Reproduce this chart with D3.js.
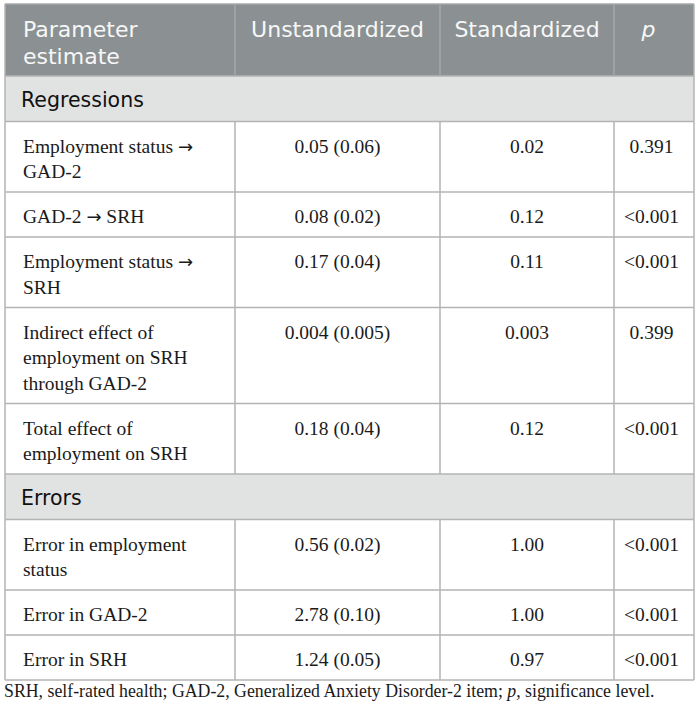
<!DOCTYPE html>
<html>
<head>
<meta charset="utf-8">
<script src="https://cdn.jsdelivr.net/npm/d3@7"></script>
<style>
  body { margin: 0; background: #fff; }
  svg { display: block; }
</style>
</head>
<body>
<div id="chart"></div>
<script>
// table content
const headers = ["Parameter\nestimate", "Unstandardized", "Standardized", "p"];
const groups = ["Regressions", "Errors"];
const rowGroup = [0, 0, 0, 0, 0, 1, 1, 1];
const rowLabels = [
    "Employment status \u2192\nGAD-2",
    "GAD-2 \u2192 SRH",
    "Employment status \u2192\nSRH",
    "Indirect effect of\nemployment on SRH\nthrough GAD-2",
    "Total effect of\nemployment on SRH",
    "Error in employment\nstatus",
    "Error in GAD-2",
    "Error in SRH"
];
const unstd = ["0.05 (0.06)", "0.08 (0.02)", "0.17 (0.04)", "0.004 (0.005)", "0.18 (0.04)", "0.56 (0.02)", "2.78 (0.10)", "1.24 (0.05)"];
const stdz = ["0.02", "0.12", "0.11", "0.003", "0.12", "1.00", "1.00", "0.97"];
const pvals = ["0.391", "<0.001", "<0.001", "0.399", "<0.001", "<0.001", "<0.001", "<0.001"];
const caption = [["SRH, self-rated health; GAD-2, Generalized Anxiety Disorder-2 item; ", false], ["p", true], [", significance level.", false]];

const width = 700, height = 713;
const colEdges = [5, 235, 440, 614, 694];
const tableTop = 4, lineH = 25.5;
const sans = "'DejaVu Sans', 'Open Sans', sans-serif";
const serif = "'Liberation Serif', 'DejaVu Serif', serif";
const gridColor = "#b3b3b3";

const svg = d3.select("#chart").append("svg")
    .attr("width", width)
    .attr("height", height);

// build row layout
let rows = [];
let y = tableTop;
rows.push({type: "header", y: y, h: 72});
y += 72;
let lastGroup = -1;
rowLabels.forEach(function (lab, i) {
    if (rowGroup[i] !== lastGroup) {
        lastGroup = rowGroup[i];
        rows.push({type: "group", y: y, h: 45.5, text: groups[lastGroup]});
        y += 45.5;
    }
    let n = lab.split("\n").length;
    let h = 45 + lineH * (n - 1);
    rows.push({type: "body", y: y, h: h, cells: [lab, unstd[i], stdz[i], pvals[i]]});
    y += h;
});
const bottom = y;

const xMid = function (c) { return (colEdges[c] + colEdges[c + 1]) / 2 - (c === 3 ? 2.5 : 0); };

// backgrounds
svg.selectAll("rect.bg")
    .data(rows.filter(function (r) { return r.type !== "body"; }))
    .join("rect")
    .attr("class", "bg")
    .attr("x", colEdges[0])
    .attr("y", function (d) { return d.y; })
    .attr("width", colEdges[4] - colEdges[0])
    .attr("height", function (d) { return d.h; })
    .attr("fill", function (d) { return d.type === "header" ? "#8b9193" : "#e1e3e2"; });

// horizontal lines
svg.selectAll("line.h")
    .data(rows.slice(1).map(function (r) { return r.y; }).concat([bottom]))
    .join("line")
    .attr("class", "h")
    .attr("x1", colEdges[0]).attr("x2", colEdges[4])
    .attr("y1", function (d) { return d; }).attr("y2", function (d) { return d; })
    .attr("stroke", gridColor)
    .attr("stroke-width", 1.5);

// vertical lines
rows.forEach(function (r) {
    let edges = r.type === "group" ? [colEdges[0], colEdges[4]] : colEdges;
    svg.append("g").selectAll("line")
        .data(edges)
        .join("line")
        .attr("x1", function (d) { return d; }).attr("x2", function (d) { return d; })
        .attr("y1", r.y).attr("y2", r.y + r.h)
        .attr("stroke", function (d, i) {
            if (r.type === "header" && i > 0 && i < edges.length - 1) return "#a3a8aa";
            return gridColor;
        })
        .attr("stroke-width", 1.5);
});
svg.append("line")
    .attr("x1", colEdges[0]).attr("x2", colEdges[4])
    .attr("y1", tableTop).attr("y2", tableTop)
    .attr("stroke", "#a3a8aa").attr("stroke-width", 1.5);

// header text
let hdr = rows[0];
headers.forEach(function (h, c) {
    let t = svg.append("text")
        .attr("font-family", sans)
        .attr("font-size", 22)
        .attr("fill", "#f7f7f7")
        .attr("text-anchor", c === 0 ? "start" : "middle")
        .attr("font-style", c === 3 ? "italic" : "normal");
    h.split("\n").forEach(function (line, k) {
        t.append("tspan")
            .attr("x", c === 0 ? colEdges[0] + 18 : xMid(c) - (c === 3 ? 3 : 0))
            .attr("y", hdr.y + 33 + k * 26.5)
            .text(line);
    });
});

// group labels
svg.selectAll("text.grp")
    .data(rows.filter(function (r) { return r.type === "group"; }))
    .join("text")
    .attr("class", "grp")
    .attr("x", colEdges[0] + 16)
    .attr("y", function (d) { return d.y + 31; })
    .attr("font-family", sans)
    .attr("font-size", 20.5)
    .attr("fill", "#111")
    .text(function (d) { return d.text; });

// body cells
rows.filter(function (r) { return r.type === "body"; }).forEach(function (r) {
    r.cells.forEach(function (cell, c) {
        let t = svg.append("text")
            .attr("font-family", serif)
            .attr("font-size", 19.5)
            .attr("fill", "#1a1a1a")
            .attr("text-anchor", c === 0 ? "start" : "middle");
        cell.split("\n").forEach(function (line, k) {
            line.split(/(\u2192)/).forEach(function (part, j) {
                if (part === "") return;
                let s = t.append("tspan").text(part);
                if (j === 0) {
                    s.attr("x", c === 0 ? colEdges[0] + 18 : xMid(c))
                        .attr("y", r.y + 31 + k * lineH);
                }
                if (part === "\u2192") {
                    s.attr("font-family", "'DejaVu Sans', sans-serif").attr("font-size", 18);
                }
            });
        });
    });
});

// footnote
let cap = svg.append("text")
    .attr("x", colEdges[0] - 1)
    .attr("y", bottom + 17)
    .attr("font-family", serif)
    .attr("font-size", 17.8)
    .attr("fill", "#1a1a1a");
cap.selectAll("tspan")
    .data(caption)
    .join("tspan")
    .attr("font-style", function (d) { return d[1] ? "italic" : "normal"; })
    .text(function (d) { return d[0]; });
</script>
</body>
</html>
